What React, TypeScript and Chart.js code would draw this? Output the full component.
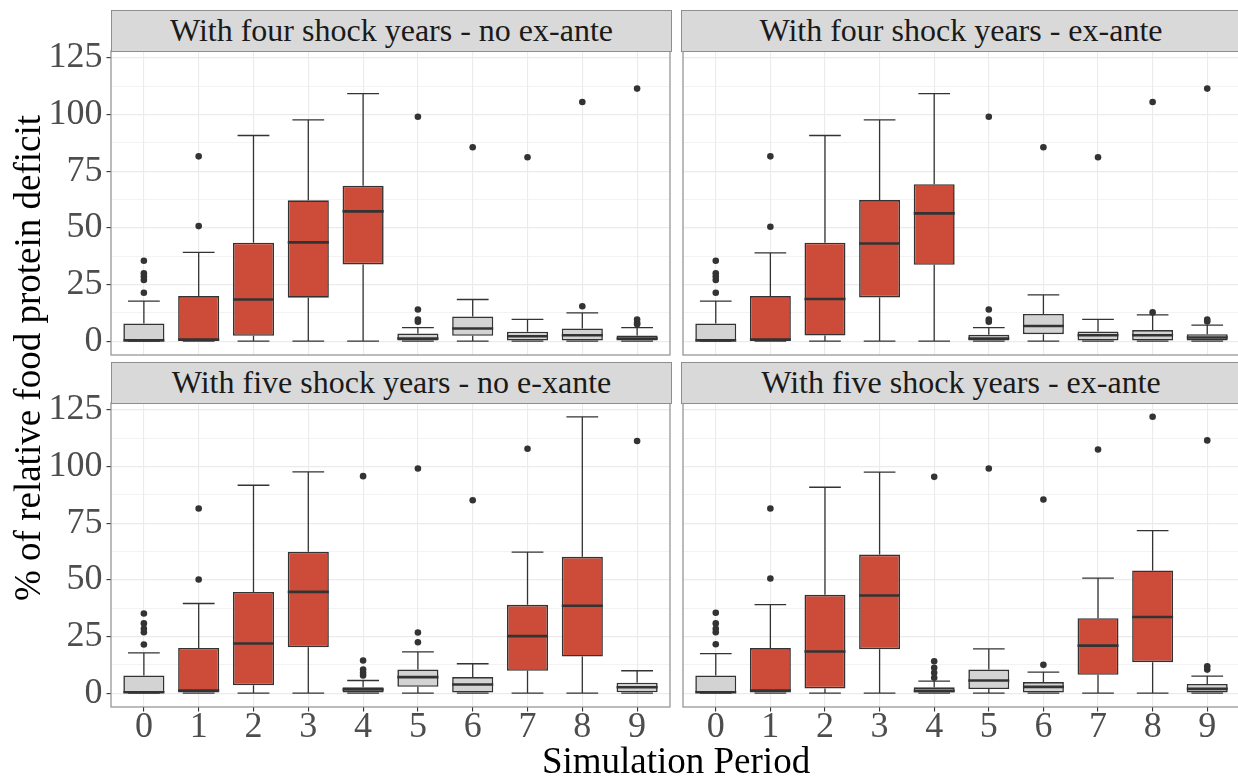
import React, { useEffect, useRef } from 'react';
import { Chart, registerables } from 'chart.js';
Chart.register(...registerables);

// ---------- data ----------
const periods = [0, 1, 2, 3, 4, 5, 6, 7, 8, 9];
const yMajorTicks = [0, 25, 50, 75, 100, 125];
const yMinorTicks = [12.5, 37.5, 62.5, 87.5, 112.5];

// Panel A: With four shock years - no ex-ante
const aTitle = 'With four shock years - no ex-ante';
const aShock = [1, 2, 3, 4];
const aQ1 = [0, 0, 2.4, 19.2, 33.9, 0, 2.4, 0, 0, 0];
const aMed = [0.3, 0.7, 18.4, 43.6, 57.3, 1.2, 5.6, 2.2, 2.6, 1.2];
const aQ3 = [7.8, 19.9, 43.5, 62.2, 68.6, 3.4, 10.9, 4.2, 5.6, 2.5];
const aLo = [0, 0, 0, 0, 0, 0, 0, 0, 0, 0];
const aHi = [17.7, 39.2, 90.8, 97.7, 109.3, 6.0, 18.4, 9.6, 12.5, 6.0];
const aOut = [[21.4, 27, 28.5, 30, 35.5], [50.8, 81.6], [], [], [], [8.6, 9.6, 14, 99.1], [85.6], [81.2], [15.4, 105.6], [7.5, 8.1, 9.6, 111.5]];

// Panel B: With four shock years - ex-ante
const bTitle = 'With four shock years - ex-ante';
const bShock = [1, 2, 3, 4];
const bQ1 = [0, 0, 2.5, 19.3, 33.7, 0, 3.1, 0, 0, 0];
const bMed = [0.3, 0.7, 18.6, 43.1, 56.4, 1.2, 6.7, 2.6, 2.6, 1.6];
const bQ3 = [7.8, 19.9, 43.5, 62.3, 69.3, 2.8, 12.0, 4.3, 4.9, 3.1];
const bLo = [0, 0, 0, 0, 0, 0, 0, 0, 0, 0];
const bHi = [17.7, 39.0, 90.8, 97.7, 109.3, 6.0, 20.4, 9.6, 11.6, 7.1];
const bOut = [[21.4, 27, 28.5, 30, 35.5], [50.5, 81.6], [], [], [], [8.6, 9.6, 14, 99.1], [85.6], [81.2], [12.7, 105.6], [8.7, 9.6, 111.5]];

// Panel C: With five shock years - no e-xante
const cTitle = 'With five shock years - no e-xante';
const cShock = [1, 2, 3, 7, 8];
const cQ1 = [0, 0, 3.5, 20.3, 0, 2.8, 0, 9.9, 16.2, 0.4];
const cMed = [0.4, 1.2, 21.9, 44.7, 1.6, 7.1, 3.8, 25.2, 38.6, 2.6];
const cQ3 = [7.8, 20.0, 44.7, 62.4, 2.6, 10.4, 7.1, 39.0, 60.2, 4.6];
const cLo = [0, 0, 0, 0, 0, 0, 0, 0, 0, 0];
const cHi = [17.8, 39.6, 91.8, 97.7, 5.6, 18.2, 13.0, 62.3, 122.0, 9.9];
const cOut = [[21.5, 26.9, 28.4, 30.8, 35.2], [50.2, 81.5], [], [], [7.8, 9.0, 10.4, 14.4, 95.8], [22.5, 26.8, 99.2], [85.2], [107.9], [], [111.3]];

// Panel D: With five shock years - ex-ante
const dTitle = 'With five shock years - ex-ante';
const dShock = [1, 2, 3, 7, 8];
const dQ1 = [0, 0, 2.1, 19.4, 0, 1.8, 0, 8.1, 13.7, 0];
const dMed = [0.4, 1.2, 18.4, 43.1, 1.0, 5.6, 2.8, 21.0, 33.6, 1.9];
const dQ3 = [7.8, 19.9, 43.4, 61.2, 2.6, 10.4, 4.9, 33.1, 54.2, 4.1];
const dLo = [0, 0, 0, 0, 0, 0, 0, 0, 0, 0];
const dHi = [17.5, 39.1, 90.9, 97.6, 5.3, 19.6, 9.3, 50.8, 71.8, 7.5];
const dOut = [[21.6, 26.9, 28.4, 30.8, 35.5], [50.6, 81.5], [], [], [6.8, 9.0, 11.2, 14.1, 95.5], [99.2], [12.5, 85.5], [107.6], [122.0], [10.4, 11.9, 111.6]];

const xTitle = 'Simulation Period';
const yTitle = '% of relative food protein deficit';

// ---------- styles ----------
const SERIF = "'Liberation Serif', 'DejaVu Serif', 'Noto Serif', 'Times New Roman', Times, serif";
const RED = '#CC4C39';
const GREY_FILL = '#D3D3D3';
const DARK = '#333333';
const GRID = '#EBEBEB';
const BORDER = '#8E8E8E';
const AREA_W = 561;
const AREA_H = 304;
const Y_AXIS_W = 71;
const X_AXIS_H = 48;
const PAD_V = 26;

type PanelData = {
  title: string; shock: number[]; q1: number[]; med: number[]; q3: number[];
  lo: number[]; hi: number[]; out: number[][];
};

const panels: PanelData[] = [
  { title: aTitle, shock: aShock, q1: aQ1, med: aMed, q3: aQ3, lo: aLo, hi: aHi, out: aOut },
  { title: bTitle, shock: bShock, q1: bQ1, med: bMed, q3: bQ3, lo: bLo, hi: bHi, out: bOut },
  { title: cTitle, shock: cShock, q1: cQ1, med: cMed, q3: cQ3, lo: cLo, hi: cHi, out: cOut },
  { title: dTitle, shock: dShock, q1: dQ1, med: dMed, q3: dQ3, lo: dLo, hi: dHi, out: dOut },
];

const layoutPos = [
  { left: 111, top: 51, showX: false, showY: true },
  { left: 680.5, top: 51, showX: false, showY: false },
  { left: 111, top: 403, showX: true, showY: true },
  { left: 680.5, top: 403, showX: true, showY: false },
];

function Panel({ p, left, top, showX, showY }: { p: PanelData; left: number; top: number; showX: boolean; showY: boolean }) {
  const ref = useRef<HTMLCanvasElement>(null);
  const padL = showY ? Y_AXIS_W : 2;
  const padB = showX ? X_AXIS_H : PAD_V;
  const W = AREA_W + padL + 2;
  const H = AREA_H + PAD_V + padB;

  useEffect(() => {
    if (!ref.current) return;
    const boxPlugin = {
      id: 'boxParts',
      beforeDatasetsDraw(chart: any) {
        const { ctx } = chart;
        const xs = chart.scales.x;
        const ys = chart.scales.y;
        ctx.save();
        ctx.strokeStyle = DARK;
        ctx.lineWidth = 1.3;
        periods.forEach((i) => {
          const x = xs.getPixelForValue(i);
          const xa = xs.getPixelForValue(i - 0.29);
          const xb = xs.getPixelForValue(i + 0.29);
          ctx.beginPath();
          ctx.moveTo(x, ys.getPixelForValue(p.q3[i]));
          ctx.lineTo(x, ys.getPixelForValue(p.hi[i]));
          ctx.moveTo(x, ys.getPixelForValue(p.q1[i]));
          ctx.lineTo(x, ys.getPixelForValue(p.lo[i]));
          ctx.moveTo(xa, ys.getPixelForValue(p.hi[i]));
          ctx.lineTo(xb, ys.getPixelForValue(p.hi[i]));
          ctx.moveTo(xa, ys.getPixelForValue(p.lo[i]));
          ctx.lineTo(xb, ys.getPixelForValue(p.lo[i]));
          ctx.stroke();
        });
        ctx.restore();
      },
      afterDatasetsDraw(chart: any) {
        const { ctx } = chart;
        const xs = chart.scales.x;
        const ys = chart.scales.y;
        ctx.save();
        ctx.strokeStyle = DARK;
        ctx.lineWidth = 2.6;
        periods.forEach((i) => {
          const y = ys.getPixelForValue(p.med[i]);
          ctx.beginPath();
          ctx.moveTo(xs.getPixelForValue(i - 0.375), y);
          ctx.lineTo(xs.getPixelForValue(i + 0.375), y);
          ctx.stroke();
        });
        ctx.restore();
      },
      afterDraw(chart: any) {
        const { ctx, chartArea: a } = chart;
        ctx.save();
        ctx.strokeStyle = BORDER;
        ctx.lineWidth = 1.2;
        ctx.strokeRect(a.left, a.top, a.right - a.left, a.bottom - a.top);
        ctx.restore();
      },
    };

    const outliers: { x: number; y: number }[] = [];
    periods.forEach((i) => p.out[i].forEach((v) => outliers.push({ x: i, y: v })));

    const chart = new Chart(ref.current, {
      type: 'bar',
      data: {
        datasets: [
          {
            type: 'scatter',
            data: outliers,
            pointRadius: 3.3,
            pointBackgroundColor: DARK,
            pointBorderWidth: 0,
            order: 0,
          } as any,
          {
            type: 'bar',
            data: periods.map((i) => ({ x: i, y: [p.q1[i], p.q3[i]] })),
            backgroundColor: periods.map((i) => (p.shock.includes(i) ? RED : GREY_FILL)),
            borderColor: DARK,
            borderWidth: 1.6,
            borderSkipped: false,
            barPercentage: 0.75,
            categoryPercentage: 1,
            order: 1,
          } as any,
        ],
      },
      options: {
        animation: false,
        responsive: false,
        events: [],
        layout: { padding: { left: showY ? 0 : 2, right: 2, top: PAD_V, bottom: showX ? 0 : PAD_V } },
        plugins: { legend: { display: false }, tooltip: { enabled: false }, title: { display: false } },
        scales: {
          x: {
            type: 'linear',
            min: -0.6,
            max: 9.6,
            offset: false,
            afterBuildTicks: (s: any) => { s.ticks = periods.map((v) => ({ value: v })); },
            afterFit: (s: any) => { s.height = showX ? X_AXIS_H : 0; },
            ticks: {
              display: showX,
              autoSkip: false,
              maxRotation: 0,
              padding: 1,
              color: '#4D4D4D',
              font: { family: SERIF, size: 36, lineHeight: 0.85 },
              callback: (v: any) => String(v),
            },
            grid: {
              offset: false,
              color: GRID,
              lineWidth: 1.1,
              drawTicks: showX,
              tickLength: 4.5,
              tickColor: DARK,
              tickWidth: 1.1,
            },
            border: { display: false },
          },
          y: {
            type: 'linear',
            min: -6.1,
            max: 128.1,
            afterBuildTicks: (s: any) => {
              s.ticks = [...yMajorTicks, ...yMinorTicks].sort((a, b) => a - b).map((v) => ({ value: v }));
            },
            afterFit: (s: any) => { s.width = showY ? Y_AXIS_W : 0; },
            ticks: {
              display: showY,
              autoSkip: false,
              padding: 4,
              color: '#4D4D4D',
              font: { family: SERIF, size: 36, lineHeight: 1 },
              callback: (v: any) => (yMajorTicks.includes(v) ? String(v) : ''),
            },
            grid: {
              color: GRID,
              lineWidth: (c: any) => (c.tick && yMajorTicks.includes(c.tick.value) ? 1.2 : 0.6),
              drawTicks: showY,
              tickLength: 4.5,
              tickColor: (c: any) => (c.tick && yMajorTicks.includes(c.tick.value) ? DARK : 'rgba(0,0,0,0)'),
              tickWidth: 1.1,
            },
            border: { display: false },
          },
        },
      } as any,
      plugins: [boxPlugin],
    });
    return () => chart.destroy();
  }, []);

  return (
    <canvas
      ref={ref}
      width={W}
      height={H}
      style={{ position: 'absolute', left: left - padL, top: top - PAD_V, width: W, height: H }}
    />
  );
}

export default function App() {
  return (
    <div style={{ position: 'absolute', left: 0, top: 0, width: 1238, height: 780, overflow: 'hidden', background: '#fff' }}>
      {panels.map((p, k) => (
        <Panel key={k} p={p} {...layoutPos[k]} />
      ))}
      {panels.map((p, k) => (
        <div
          key={'s' + k}
          style={{
            position: 'absolute',
            left: layoutPos[k].left,
            top: layoutPos[k].top - 41,
            width: AREA_W,
            height: 41.5,
            boxSizing: 'border-box',
            background: '#D9D9D9',
            border: `1.2px solid ${BORDER}`,
            display: 'flex',
            alignItems: 'center',
            justifyContent: 'center',
            fontFamily: SERIF,
            fontSize: 32,
            color: '#1A1A1A',
            whiteSpace: 'nowrap',
          }}
        >
          {p.title}
        </div>
      ))}
      <div
        style={{
          position: 'absolute',
          left: 676 - 200,
          top: 742,
          width: 400,
          textAlign: 'center',
          fontFamily: SERIF,
          fontSize: 37,
          lineHeight: '37px',
          color: '#000',
          whiteSpace: 'nowrap',
        }}
      >
        {xTitle}
      </div>
      <div
        style={{
          position: 'absolute',
          left: 28 - 300,
          top: 358 - 20,
          width: 600,
          height: 40,
          lineHeight: '40px',
          textAlign: 'center',
          transform: 'rotate(-90deg)',
          transformOrigin: '50% 50%',
          fontFamily: SERIF,
          fontSize: 37,
          color: '#000',
          whiteSpace: 'nowrap',
        }}
      >
        {yTitle}
      </div>
    </div>
  );
}
